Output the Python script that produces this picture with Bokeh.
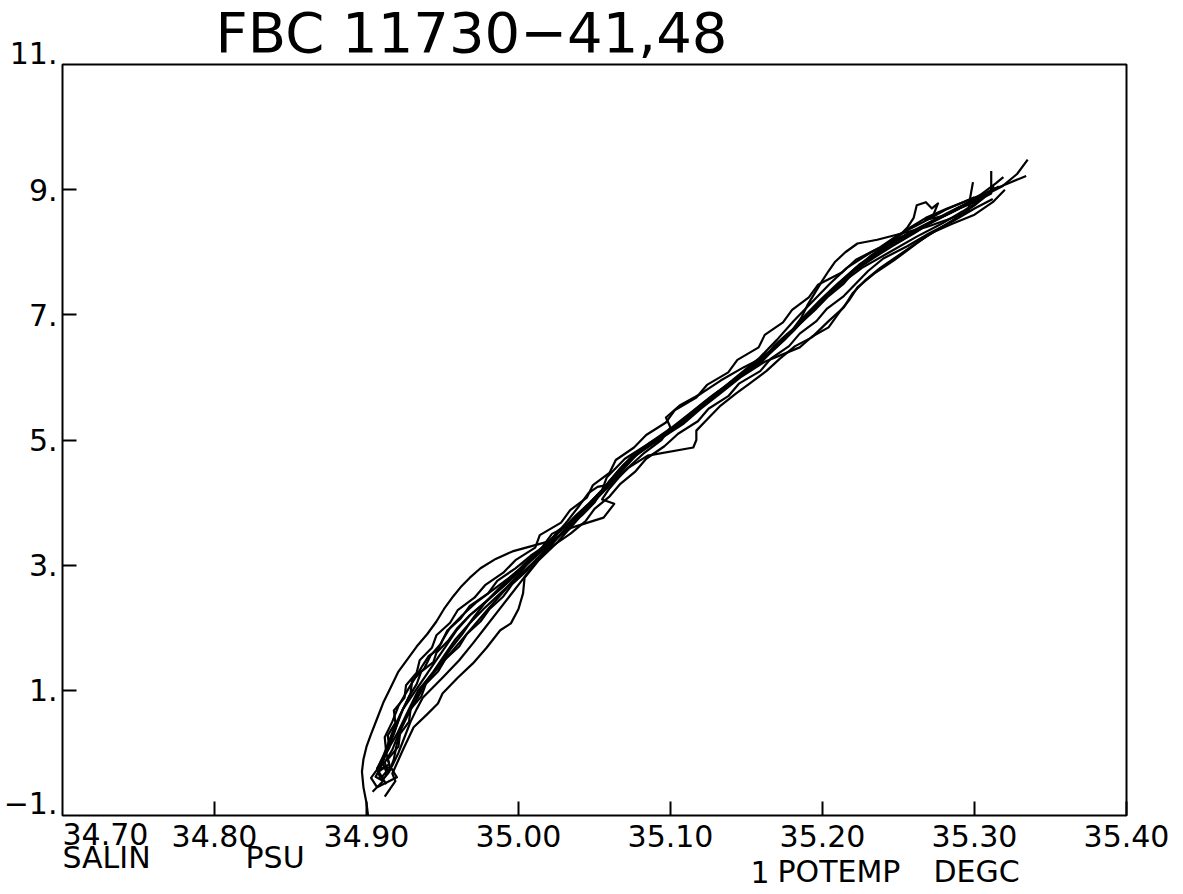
from bokeh.plotting import figure
from bokeh.models import (Range1d, FixedTicker, Label, LabelSet, ColumnDataSource,
                          LinearAxis, BoxAnnotation)
from bokeh.core.properties import value
from bokeh.embed import file_html
from bokeh.resources import INLINE

# ---------------- data (salinity PSU, potential temperature degC) ----------------
sal_1 = [34.901, 34.900, 34.898, 34.897, 34.898, 34.900, 34.903, 34.907, 34.911, 34.916, 34.921, 34.927,
         34.933, 34.940, 34.946, 34.951, 34.957, 34.962, 34.968, 34.975, 34.985, 34.996, 35.008, 35.020,
         35.025, 35.032, 35.040, 35.046, 35.052, 35.058, 35.064, 35.070, 35.082, 35.098, 35.114, 35.128,
         35.143, 35.158, 35.170, 35.181, 35.193, 35.205, 35.216, 35.232, 35.252, 35.272, 35.288, 35.305, 35.316]
tmp_1 = [-1.00, -0.80, -0.55, -0.30, -0.10, 0.10, 0.30, 0.55, 0.80, 1.05, 1.30, 1.50,
         1.70, 1.90, 2.10, 2.30, 2.50, 2.65, 2.80, 2.95, 3.10, 3.22, 3.30, 3.38,
         3.50, 3.70, 3.95, 4.15, 4.25, 4.28, 4.40, 4.60, 4.85, 5.10, 5.40, 5.70,
         6.00, 6.30, 6.60, 6.90, 7.20, 7.50, 7.75, 8.00, 8.25, 8.50, 8.70, 8.90, 9.05]

sal_2 = [34.904, 34.911, 34.906, 34.910, 34.913, 34.912, 34.917, 34.921, 34.927, 34.932, 34.937, 34.941,
         34.947, 34.950, 34.955, 34.963, 34.972, 34.983, 34.994, 35.004, 35.014, 35.024, 35.033, 35.040,
         35.048, 35.056, 35.063, 35.070, 35.079, 35.090, 35.102, 35.112, 35.122, 35.133, 35.145, 35.160,
         35.170, 35.180, 35.189, 35.199, 35.210, 35.222, 35.238, 35.256, 35.270, 35.286, 35.302, 35.318,
         35.328, 35.335]
tmp_2 = [-0.62, -0.45, -0.38, -0.20, 0.00, 0.25, 0.50, 0.75, 1.00, 1.20, 1.40, 1.55,
         1.65, 1.80, 2.00, 2.20, 2.40, 2.60, 2.80, 3.00, 3.20, 3.40, 3.60, 3.80,
         4.00, 4.20, 4.40, 4.60, 4.80, 5.00, 5.20, 5.40, 5.60, 5.80, 6.00, 6.25,
         6.50, 6.75, 7.00, 7.25, 7.50, 7.75, 8.00, 8.25, 8.45, 8.65, 8.85, 9.05,
         9.25, 9.48]

sal_3 = [34.912, 34.919, 34.917, 34.924, 34.931, 34.940, 34.947, 34.950, 34.960, 34.970, 34.979, 34.988,
         34.995, 35.000, 35.003, 35.004, 35.013, 35.025, 35.036, 35.047, 35.057, 35.066, 35.077, 35.092,
         35.108, 35.120, 35.133, 35.146, 35.162, 35.185, 35.193, 35.204, 35.212, 35.218, 35.223, 35.234,
         35.247, 35.262, 35.271, 35.285, 35.300, 35.312, 35.320]
tmp_3 = [-0.70, -0.45, -0.33, 0.05, 0.41, 0.62, 0.79, 0.95, 1.20, 1.43, 1.68, 1.96,
         2.07, 2.30, 2.55, 2.80, 3.07, 3.35, 3.65, 3.95, 4.20, 4.45, 4.75, 5.00,
         5.25, 5.50, 5.75, 6.00, 6.25, 6.48, 6.65, 6.80, 7.07, 7.25, 7.44, 7.66,
         7.87, 8.14, 8.30, 8.45, 8.60, 8.80, 9.00]

sal_4 = [34.909, 34.907, 34.911, 34.915, 34.919, 34.924, 34.929, 34.930, 34.938, 34.942, 34.949, 34.953,
         34.962, 34.968, 34.980, 34.986, 34.998, 35.008, 35.020, 35.026, 35.038, 35.046, 35.054, 35.060,
         35.067, 35.075, 35.086, 35.100, 35.110, 35.120, 35.130, 35.142, 35.152, 35.162, 35.172, 35.180,
         35.186, 35.190, 35.195, 35.200, 35.204, 35.208, 35.215, 35.223, 35.236, 35.252, 35.268, 35.282,
         35.296, 35.297, 35.299]
tmp_4 = [-0.40, -0.25, -0.05, 0.20, 0.45, 0.70, 0.95, 1.15, 1.35, 1.55, 1.75, 1.95,
         2.15, 2.35, 2.55, 2.75, 2.95, 3.15, 3.35, 3.55, 3.75, 3.95, 4.15, 4.35,
         4.55, 4.75, 4.95, 5.15, 5.35, 5.55, 5.75, 5.95, 6.15, 6.35, 6.55, 6.75,
         6.95, 7.15, 7.35, 7.55, 7.70, 7.84, 8.00, 8.14, 8.20, 8.30, 8.40, 8.52,
         8.65, 8.85, 9.12]

sal_5 = [34.913, 34.908, 34.915, 34.913, 34.918, 34.922, 34.928, 34.933, 34.936, 34.944, 34.946, 34.954,
         34.960, 34.968, 34.978, 34.987, 34.996, 35.003, 35.012, 35.021, 35.030, 35.038, 35.047, 35.055,
         35.062, 35.069, 35.078, 35.090, 35.104, 35.114, 35.124, 35.134, 35.144, 35.155, 35.166, 35.175,
         35.183, 35.191, 35.199, 35.207, 35.215, 35.224, 35.236, 35.248, 35.256, 35.260, 35.262, 35.268,
         35.272, 35.276, 35.273, 35.268, 35.280, 35.290, 35.300, 35.311, 35.311]
tmp_5 = [-0.50, -0.30, -0.18, 0.00, 0.30, 0.60, 0.90, 1.10, 1.30, 1.45, 1.60, 1.80,
         2.00, 2.20, 2.40, 2.60, 2.80, 3.00, 3.20, 3.40, 3.60, 3.80, 4.00, 4.20,
         4.40, 4.60, 4.80, 5.00, 5.20, 5.40, 5.60, 5.80, 6.00, 6.20, 6.40, 6.60,
         6.80, 7.00, 7.20, 7.40, 7.60, 7.80, 8.00, 8.20, 8.40, 8.55, 8.75, 8.80,
         8.70, 8.78, 8.60, 8.52, 8.58, 8.70, 8.80, 8.94, 9.30]

sal_6 = [34.910, 34.915, 34.918, 34.920, 34.923, 34.928, 34.934, 34.940, 34.948, 34.955, 34.963, 34.970,
         34.978, 34.988, 34.999, 35.011, 35.022, 35.035, 35.056, 35.063, 35.055, 35.059, 35.066, 35.074,
         35.083, 35.094, 35.100, 35.097, 35.106, 35.120, 35.133, 35.148, 35.157, 35.170, 35.181, 35.190,
         35.200, 35.212, 35.226, 35.244, 35.262, 35.278, 35.292, 35.305, 35.313]
tmp_6 = [-0.45, -0.30, -0.10, 0.15, 0.40, 0.65, 0.90, 1.16, 1.40, 1.65, 1.90, 2.15,
         2.40, 2.65, 2.90, 3.15, 3.40, 3.60, 3.76, 3.98, 4.05, 4.20, 4.40, 4.60,
         4.80, 5.00, 5.20, 5.36, 5.55, 5.74, 5.95, 6.16, 6.27, 6.50, 6.75, 7.00,
         7.25, 7.50, 7.75, 8.00, 8.25, 8.45, 8.65, 8.85, 9.05]

sal_7 = [34.914, 34.912, 34.917, 34.921, 34.926, 34.931, 34.936, 34.944, 34.951, 34.958, 34.967, 34.977,
         34.988, 34.999, 35.010, 35.020, 35.030, 35.040, 35.050, 35.061, 35.072, 35.085, 35.115, 35.117,
         35.117, 35.125, 35.133, 35.143, 35.152, 35.163, 35.172, 35.182, 35.193, 35.204, 35.214, 35.220,
         35.228, 35.238, 35.250, 35.262, 35.275, 35.288, 35.300, 35.310]
tmp_7 = [-0.30, -0.15, 0.05, 0.30, 0.55, 0.80, 1.05, 1.30, 1.55, 1.80, 2.05, 2.30,
         2.55, 2.80, 3.05, 3.30, 3.55, 3.80, 4.05, 4.30, 4.55, 4.75, 4.88, 5.00,
         5.15, 5.35, 5.55, 5.74, 5.90, 6.10, 6.30, 6.50, 6.64, 6.90, 7.12, 7.35,
         7.55, 7.75, 7.95, 8.15, 8.35, 8.55, 8.75, 8.95]

sal_8 = [34.907, 34.903, 34.909, 34.914, 34.920, 34.925, 34.930, 34.934, 34.940, 34.952, 34.966, 34.980,
         34.995, 35.002, 35.008, 35.016, 35.022, 35.030, 35.042, 35.050, 35.055, 35.058, 35.062, 35.070,
         35.083, 35.098, 35.108, 35.118, 35.129, 35.140, 35.151, 35.161, 35.168, 35.177, 35.187, 35.196,
         35.204, 35.214, 35.221, 35.233, 35.246, 35.260, 35.273, 35.290, 35.303, 35.314, 35.319]
tmp_8 = [-0.55, -0.40, -0.20, 0.05, 0.30, 0.55, 0.80, 1.00, 1.16, 1.50, 1.90, 2.30,
         2.71, 2.90, 3.10, 3.30, 3.50, 3.60, 3.80, 4.00, 4.20, 4.40, 4.50, 4.70,
         4.90, 5.10, 5.30, 5.50, 5.70, 5.90, 6.10, 6.30, 6.50, 6.70, 6.90, 7.10,
         7.30, 7.50, 7.70, 7.90, 8.10, 8.30, 8.50, 8.70, 8.90, 9.10, 9.20]

sal_9 = [34.907, 34.920, 34.916, 34.907, 34.912, 34.916, 34.920, 34.924, 34.931, 34.938, 34.945, 34.952,
         34.959, 34.968, 34.980, 34.992, 35.003, 35.014, 35.026, 35.036, 35.045, 35.055, 35.064, 35.074,
         35.086, 35.101, 35.114, 35.127, 35.141, 35.155, 35.168, 35.178, 35.188, 35.199, 35.209, 35.220,
         35.232, 35.247, 35.258, 35.268, 35.282, 35.298, 35.312, 35.322, 35.334]
tmp_9 = [-0.55, -0.39, -0.23, -0.25, -0.05, 0.20, 0.45, 0.70, 0.95, 1.20, 1.45, 1.70,
         1.95, 2.20, 2.45, 2.70, 2.95, 3.20, 3.45, 3.70, 3.95, 4.20, 4.45, 4.70,
         4.95, 5.20, 5.45, 5.70, 5.95, 6.20, 6.45, 6.70, 6.95, 7.20, 7.45, 7.70,
         7.95, 8.20, 8.40, 8.55, 8.70, 8.85, 9.00, 9.10, 9.22]

sal_10 = [34.912, 34.917, 34.921, 34.925, 34.929, 34.933, 34.937, 34.950, 34.961, 34.970, 34.978, 34.986,
          34.994, 35.002, 35.010, 35.019, 35.028, 35.038, 35.048, 35.058, 35.066, 35.077, 35.090, 35.106,
          35.119, 35.131, 35.145, 35.158, 35.170, 35.181, 35.191, 35.201, 35.211, 35.222, 35.236, 35.250,
          35.265, 35.281, 35.296, 35.305]
tmp_10 = [-0.35, -0.20, 0.00, 0.25, 0.50, 0.70, 0.88, 1.20, 1.48, 1.75, 2.00, 2.25,
          2.50, 2.75, 3.00, 3.25, 3.50, 3.75, 4.00, 4.25, 4.50, 4.75, 5.00, 5.25,
          5.50, 5.75, 6.00, 6.25, 6.50, 6.75, 7.00, 7.25, 7.50, 7.75, 8.00, 8.20,
          8.40, 8.60, 8.80, 8.90]

sal_11 = [34.909, 34.913, 34.910, 34.915, 34.914, 34.919, 34.918, 34.925, 34.926, 34.933, 34.935, 34.943,
          34.946, 34.955, 34.960, 34.971, 34.978, 34.990, 34.998, 35.011, 35.014, 35.028, 35.034, 35.045,
          35.049, 35.060, 35.064, 35.076, 35.084, 35.097, 35.103, 35.117, 35.124, 35.138, 35.144, 35.158,
          35.162, 35.174, 35.180, 35.191, 35.197, 35.213, 35.222, 35.238, 35.250, 35.266, 35.281, 35.300]
tmp_11 = [-0.42, -0.30, -0.12, 0.08, 0.28, 0.48, 0.68, 0.88, 1.08, 1.28, 1.48, 1.68,
          1.88, 2.08, 2.28, 2.48, 2.68, 2.88, 3.08, 3.28, 3.48, 3.68, 3.88, 4.08,
          4.28, 4.48, 4.68, 4.88, 5.08, 5.28, 5.48, 5.68, 5.88, 6.08, 6.28, 6.48,
          6.68, 6.88, 7.08, 7.28, 7.48, 7.68, 7.88, 8.08, 8.28, 8.48, 8.68, 8.88]

sal_12 = [34.916, 34.914, 34.921, 34.922, 34.928, 34.929, 34.936, 34.939, 34.947, 34.952, 34.961, 34.966,
          34.975, 34.981, 34.990, 34.996, 35.005, 35.012, 35.022, 35.034, 35.044, 35.050, 35.060, 35.067,
          35.077, 35.084, 35.096, 35.105, 35.118, 35.125, 35.138, 35.145, 35.159, 35.166, 35.178, 35.185,
          35.196, 35.203, 35.214, 35.222, 35.230, 35.240, 35.256, 35.270, 35.286, 35.300, 35.312]
tmp_12 = [-0.28, -0.10, 0.10, 0.30, 0.50, 0.70, 0.90, 1.10, 1.30, 1.50, 1.70, 1.90,
          2.10, 2.30, 2.50, 2.70, 2.90, 3.10, 3.30, 3.50, 3.70, 3.90, 4.10, 4.30,
          4.50, 4.70, 4.90, 5.10, 5.30, 5.50, 5.70, 5.90, 6.10, 6.30, 6.50, 6.70,
          6.90, 7.10, 7.30, 7.50, 7.70, 7.90, 8.10, 8.30, 8.50, 8.70, 8.85]

profiles_s = [sal_1, sal_2, sal_3, sal_4, sal_5, sal_6, sal_7, sal_8, sal_9, sal_10, sal_11, sal_12]
profiles_t = [tmp_1, tmp_2, tmp_3, tmp_4, tmp_5, tmp_6, tmp_7, tmp_8, tmp_9, tmp_10, tmp_11, tmp_12]

x_ticks = [34.70, 34.80, 34.90, 35.00, 35.10, 35.20, 35.30, 35.40]
x_tick_labels = ["34.70", "34.80", "34.90", "35.00", "35.10", "35.20", "35.30", "35.40"]
y_ticks = [11, 9, 7, 5, 3, 1, -1]
y_tick_labels = ["11.", "9.", "7.", "5.", "3.", "1.", "\u22121."]

title_text = "FBC 11730\u221241,48"
x_names = ["SALIN", "PSU"]
t_names = ["1", "POTEMP", "DEGC"]

# ---------------- layout: frame fills the canvas, data box drawn inside ----------------
W, H = 1180, 890
BOX_L, BOX_T, BOX_W, BOX_H = 62, 64, 1064, 751          # pixel placement of the plot box
PX_X = BOX_W / (x_ticks[-1] - x_ticks[0])
PX_Y = BOX_H / (y_ticks[0] - y_ticks[-1])
x0 = x_ticks[0] - BOX_L / PX_X
y1 = y_ticks[0] + BOX_T / PX_Y
xr = Range1d(x0, x0 + W / PX_X)
yr = Range1d(y1 - H / PX_Y, y1)


def y_at(px):
    """data y for a canvas pixel row"""
    return y1 - px / PX_Y


def x_at(px):
    return x0 + px / PX_X


FONT = "DejaVu Sans"
FS = "30px"
C30 = 14      # baseline correction of Label text (px) at 30px
C56 = 23      # same at 56px

p = figure(width=W, height=H, x_range=xr, y_range=yr, output_backend="svg",
           toolbar_location=None, title=None, x_axis_location=None, y_axis_location=None,
           min_border=0)
p.min_border_left = p.min_border_right = p.min_border_top = p.min_border_bottom = 0
p.background_fill_color = "white"
p.border_fill_color = "white"
p.outline_line_color = None
p.grid.visible = False

p.add_layout(BoxAnnotation(left=x_ticks[0], right=x_ticks[-1], bottom=y_ticks[-1], top=y_ticks[0],
                           fill_color=None, fill_alpha=0, line_color="black", line_alpha=1.0,
                           line_width=2))

xa_ticks = x_ticks[1:]
ya_ticks = y_ticks[1:-1]
xaxis = LinearAxis(fixed_location=y_ticks[-1], ticker=FixedTicker(ticks=xa_ticks),
                   major_label_overrides={t: l for t, l in zip(xa_ticks, x_tick_labels[1:])})
yaxis = LinearAxis(fixed_location=x_ticks[0], ticker=FixedTicker(ticks=ya_ticks),
                   major_label_overrides={t: l for t, l in zip(ya_ticks, y_tick_labels[1:-1])})
for ax in (xaxis, yaxis):
    ax.major_tick_in = 14
    ax.major_tick_out = 0
    ax.major_tick_line_width = 2
    ax.major_tick_line_color = "black"
    ax.minor_tick_line_color = None
    ax.axis_line_color = None
    ax.major_label_text_font = FONT
    ax.major_label_text_font_size = FS
    ax.major_label_text_color = "black"
xaxis.major_label_standoff = 9
yaxis.major_label_standoff = 5
p.add_layout(xaxis, "below")
p.add_layout(yaxis, "left")

for s, t in zip(profiles_s, profiles_t):
    p.line(s, t, line_color="black", line_width=2.2, line_join="round")

# ---------------- texts ----------------
end_src = ColumnDataSource(dict(x=[x_ticks[0], x_ticks[0]],
                                y=[y_at(63), y_at(813)],
                                text=[y_tick_labels[0], y_tick_labels[-1]]))
p.add_layout(LabelSet(x="x", y="y", text="text", source=end_src, x_offset=-5,
                      text_align="right", text_baseline="alphabetic",
                      text_font=value(FONT), text_font_size=value(FS), text_color="black"))

p.add_layout(Label(x=x_ticks[0], y=y_at(847 - C30), text=x_tick_labels[0], text_align="left",
                   text_baseline="alphabetic", text_font=FONT, text_font_size=FS,
                   text_color="black"))

for xx, yy, tt in [(x_at(62), y_at(871 - C30), x_names[0]), (x_at(245), y_at(871 - C30), x_names[1]),
                   (x_at(750), y_at(885 - C30), t_names[0]), (x_at(777), y_at(885 - C30), t_names[1]),
                   (x_at(933), y_at(885 - C30), t_names[2])]:
    p.add_layout(Label(x=xx, y=yy, text=tt, text_align="left", text_baseline="alphabetic",
                       text_font=FONT, text_font_size=FS, text_color="black"))

p.add_layout(Label(x=x_at(215), y=y_at(55 - C56), text=title_text,
                   text_align="left", text_baseline="alphabetic", text_font=FONT,
                   text_font_size="56px", text_color="black"))

open("out.html", "w").write(file_html(p, INLINE))
